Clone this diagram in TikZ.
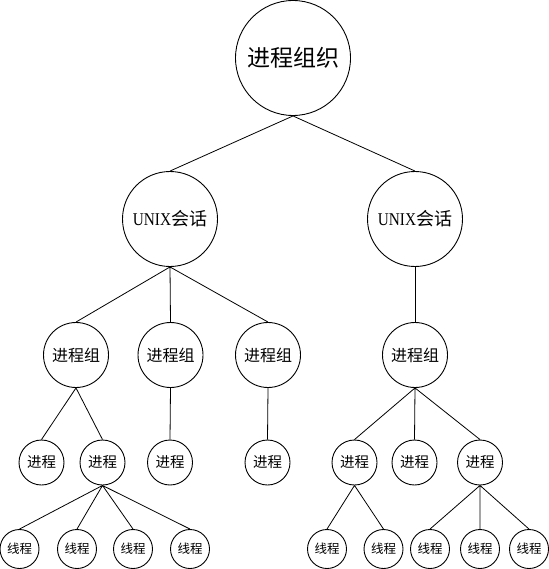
\documentclass[tikz,border=0pt]{standalone}
\usepackage{fontspec}
\setmainfont{Liberation Serif}
\newfontfamily\cjk{Noto Sans CJK SC}
\begin{document}
\begin{tikzpicture}[x=1pt,y=-1pt,line width=0.9pt,
  base/.style={circle,draw,inner sep=0pt,font=\cjk},
  lvA/.style={base,minimum size=115pt,font=\cjk\fontsize{23}{23}\selectfont},
  lvB/.style={base,minimum size=95pt,font=\fontsize{18}{18}\selectfont},
  lvC/.style={base,minimum size=65pt,font=\cjk\fontsize{16}{16}\selectfont},
  lvD/.style={base,minimum size=45pt,font=\cjk\fontsize{14.5}{14.5}\selectfont},
  lvE/.style={base,minimum size=39pt,font=\cjk\fontsize{12.5}{12.5}\selectfont},
  edge/.style={draw,line width=0.8pt}]
\useasboundingbox (0,0) rectangle (548,569);
\node[lvA] (root) at (293,58) {进程组织};
\node[lvB] (u1) at (170,219) {\scalebox{0.85}[1]{UNIX}{\cjk 会话}};
\node[lvB] (u2) at (415,219) {\scalebox{0.85}[1]{UNIX}{\cjk 会话}};
\node[lvC] (g1) at (76,355) {进程组};
\node[lvC] (g2) at (170.5,355) {进程组};
\node[lvC] (g3) at (268,355) {进程组};
\node[lvC] (g4) at (415,355) {进程组};
\node[lvD] (p1) at (41.5,462.5) {进程};
\node[lvD] (p2) at (102.5,462.5) {进程};
\node[lvD] (p3) at (170,462.5) {进程};
\node[lvD] (p4) at (267.5,462.5) {进程};
\node[lvD] (p5) at (354.5,462.5) {进程};
\node[lvD] (p6) at (414.5,462.5) {进程};
\node[lvD] (p7) at (480,462.5) {进程};
\node[lvE] (t1) at (19.5,549) {线程};
\node[lvE] (t2) at (77,549) {线程};
\node[lvE] (t3) at (133,549) {线程};
\node[lvE] (t4) at (190,549) {线程};
\node[lvE] (t5) at (327,549) {线程};
\node[lvE] (t6) at (383.5,549) {线程};
\node[lvE] (t7) at (430,549) {线程};
\node[lvE] (t8) at (480,549) {线程};
\node[lvE] (t9) at (529,549) {线程};
\path[edge] (root.south) -- (u1.north) (root.south) -- (u2.north);
\path[edge] (u1.south) -- (g1.north) (u1.south) -- (g2.north) (u1.south) -- (g3.north);
\path[edge] (u2.south) -- (g4.north);
\path[edge] (g1.south) -- (p1.north) (g1.south) -- (p2.north);
\path[edge] (g2.south) -- (p3.north);
\path[edge] (g3.south) -- (p4.north);
\path[edge] (g4.south) -- (p5.north) (g4.south) -- (p6.north) (g4.south) -- (p7.north);
\path[edge] (p2.south) -- (t1.north) (p2.south) -- (t2.north) (p2.south) -- (t3.north) (p2.south) -- (t4.north);
\path[edge] (p5.south) -- (t5.north) (p5.south) -- (t6.north);
\path[edge] (p7.south) -- (t7.north) (p7.south) -- (t8.north) (p7.south) -- (t9.north);
\end{tikzpicture}
\end{document}
